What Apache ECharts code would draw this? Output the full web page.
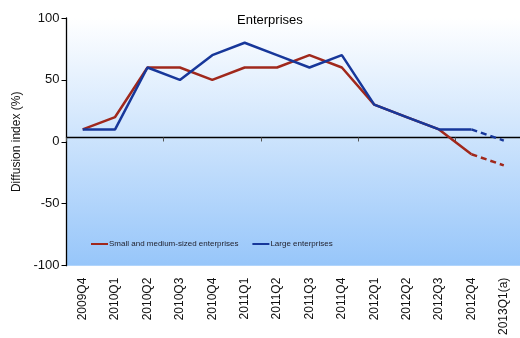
<!DOCTYPE html>
<html>
<head>
<meta charset="utf-8">
<script src="https://cdn.jsdelivr.net/npm/echarts@6/dist/echarts.min.js"></script>
<style>
  html, body { margin: 0; padding: 0; background: #ffffff; }
  #chart { width: 520px; height: 338px; }
</style>
</head>
<body>
<div id="chart"></div>
<script>
// Quarterly diffusion index by enterprise size
const quarters = ['2009Q4', '2010Q1', '2010Q2', '2010Q3', '2010Q4', '2011Q1', '2011Q2',
                  '2011Q3', '2011Q4', '2012Q1', '2012Q2', '2012Q3', '2012Q4', '2013Q1(a)'];
const smeValues   = [10, 20, 60, 60, 50, 60, 60, 70, 60, 30, 20, 10, -10, -19];
const largeValues = [10, 10, 60, 50, 70, 80, 70, 60, 70, 30, 20, 10, 10, 1];
const yTicks = { min: -100, max: 100, step: 50 };
// Level at which the category axis line crosses the value axis
const axisCross = 3.5;
// Number of trailing points that are forecasts (drawn dashed)
const forecastCount = 1;

const smeName = 'Small and medium-sized enterprises';
const largeName = 'Large enterprises';
const smeColor = '#a0281c';
const largeColor = '#17379a';

function solidPart(values) {
  return values.map((v, i) => (i < values.length - forecastCount ? v : '-'));
}
function dashedPart(values) {
  const start = values.length - forecastCount - 1;
  return values.map((v, i) => (i >= start ? v : '-'));
}

const font = 'Liberation Sans, Arial, sans-serif';
const chart = echarts.init(document.getElementById('chart'), null, { renderer: 'canvas' });

chart.setOption({
  animation: false,
  textStyle: { fontFamily: font },
  title: {
    text: 'Enterprises',
    left: 232,
    top: 9,
    textStyle: { fontFamily: font, fontSize: 13, fontWeight: 'normal', color: '#000' }
  },
  legend: {
    left: 86,
    top: 235,
    itemWidth: 17,
    itemHeight: 2,
    itemGap: 14,
    icon: 'rect',
    data: [smeName, largeName],
    textStyle: { fontFamily: font, fontSize: 8, color: '#1e1e2a', padding: [0, 0, 0, -4] }
  },
  grid: {
    left: 66.5,
    top: 18,
    width: 455,
    height: 252,
    show: true,
    borderWidth: 0,
    backgroundColor: new echarts.graphic.LinearGradient(0, 0, 0, 1, [
      { offset: 0, color: '#ffffff' },
      { offset: 1, color: '#97c6fa' }
    ])
  },
  xAxis: [
    {
      type: 'category',
      data: quarters,
      boundaryGap: true,
      axisLine: { onZero: true, onZeroAxisIndex: 1, lineStyle: { color: '#000', width: 1.3 } },
      axisTick: { show: true, inside: false, length: 4, lineStyle: { color: '#555', width: 1 } },
      axisLabel: { show: false },
      splitLine: { show: false }
    },
    {
      type: 'category',
      data: quarters,
      boundaryGap: true,
      position: 'bottom',
      axisLine: { show: false, onZero: false },
      axisTick: { show: false },
      axisLabel: {
        show: true,
        rotate: 90,
        margin: 12,
        interval: 0,
        fontFamily: font,
        fontSize: 12,
        color: '#111'
      },
      splitLine: { show: false }
    }
  ],
  yAxis: [
    {
      type: 'value',
      min: yTicks.min,
      max: yTicks.max,
      interval: yTicks.step,
      name: 'Diffusion index (%)',
      nameLocation: 'middle',
      nameRotate: 90,
      nameGap: 42,
      nameTextStyle: { fontFamily: font, fontSize: 12, color: '#111' },
      axisLine: { show: true, onZero: false, lineStyle: { color: '#000', width: 1.3 } },
      axisTick: { show: true, inside: false, length: 5, lineStyle: { color: '#000' } },
      axisLabel: { fontFamily: font, fontSize: 13, color: '#111', margin: 7 },
      splitLine: { show: false }
    },
    {
      // Shifted copy of the value scale; only used to place the category axis line
      type: 'value',
      show: false,
      min: yTicks.min - axisCross,
      max: yTicks.max - axisCross,
      splitLine: { show: false }
    }
  ],
  series: [
    {
      name: smeName,
      type: 'line',
      xAxisIndex: 0,
      yAxisIndex: 0,
      data: solidPart(smeValues),
      symbol: 'none',
      color: smeColor,
      lineStyle: { color: smeColor, width: 2.5 },
      z: 3
    },
    {
      name: largeName,
      type: 'line',
      xAxisIndex: 0,
      yAxisIndex: 0,
      data: solidPart(largeValues),
      symbol: 'none',
      color: largeColor,
      lineStyle: { color: largeColor, width: 2.5 },
      z: 4
    },
    {
      name: smeName,
      type: 'line',
      xAxisIndex: 0,
      yAxisIndex: 0,
      data: dashedPart(smeValues),
      symbol: 'none',
      color: smeColor,
      lineStyle: { color: smeColor, width: 2.5, type: [6, 4] },
      z: 3
    },
    {
      name: largeName,
      type: 'line',
      xAxisIndex: 0,
      yAxisIndex: 0,
      data: dashedPart(largeValues),
      symbol: 'none',
      color: largeColor,
      lineStyle: { color: largeColor, width: 2.5, type: [6, 4] },
      z: 4
    }
  ]
});
</script>
</body>
</html>
